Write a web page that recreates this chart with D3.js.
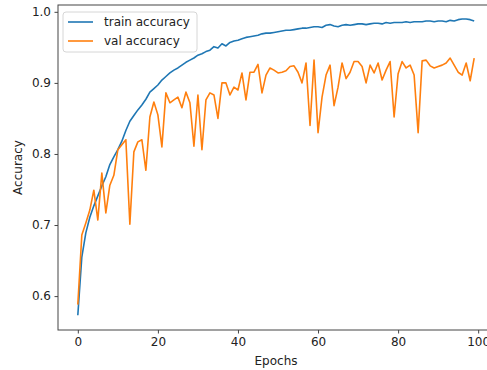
<!DOCTYPE html>
<html>
<head>
<meta charset="utf-8">
<script src="https://cdn.jsdelivr.net/npm/d3@7"></script>
<style>
  body { margin: 0; background: #fff; }
  text { font-family: "DejaVu Sans", sans-serif; }
</style>
</head>
<body>
<svg id="chart" width="487" height="370"></svg>
<script>
// accuracy per epoch
var trainAcc = [0.573,0.655,0.689,0.711,0.727,0.741,0.755,0.768,0.785,0.796,
  0.806,0.818,0.833,0.846,0.854,0.862,0.869,0.877,0.887,0.892,
  0.897,0.904,0.909,0.914,0.918,0.921,0.925,0.929,0.932,0.935,
  0.939,0.941,0.944,0.946,0.951,0.949,0.955,0.952,0.957,0.959,
  0.960,0.962,0.964,0.965,0.966,0.967,0.969,0.970,0.970,0.971,
  0.972,0.973,0.974,0.974,0.975,0.976,0.977,0.977,0.978,0.979,
  0.979,0.978,0.981,0.982,0.980,0.979,0.981,0.982,0.981,0.982,
  0.983,0.983,0.982,0.983,0.984,0.984,0.983,0.985,0.984,0.985,
  0.985,0.985,0.986,0.985,0.986,0.986,0.986,0.987,0.987,0.986,
  0.987,0.987,0.986,0.988,0.987,0.989,0.990,0.990,0.989,0.987]
var valAcc = [0.588,0.686,0.703,0.721,0.749,0.707,0.773,0.717,0.756,0.770,
  0.806,0.813,0.820,0.701,0.803,0.817,0.820,0.777,0.852,0.873,
  0.855,0.810,0.886,0.872,0.876,0.880,0.865,0.887,0.872,0.811,
  0.883,0.806,0.876,0.886,0.883,0.850,0.900,0.900,0.883,0.894,
  0.890,0.914,0.876,0.915,0.915,0.926,0.886,0.911,0.921,0.918,
  0.914,0.915,0.917,0.923,0.924,0.915,0.900,0.928,0.840,0.932,
  0.830,0.880,0.911,0.925,0.868,0.894,0.928,0.906,0.915,0.930,
  0.930,0.923,0.900,0.925,0.914,0.928,0.904,0.918,0.930,0.852,
  0.913,0.930,0.921,0.925,0.911,0.830,0.931,0.932,0.924,0.921,
  0.923,0.925,0.928,0.935,0.925,0.915,0.911,0.928,0.903,0.935]
var xTicks = [0, 20, 40, 60, 80, 100]
var yTicks = [0.6, 0.7, 0.8, 0.9, 1.0]
var seriesNames = ['train accuracy', 'val accuracy']
var seriesColors = ['#1f77b4', '#ff7f0e']

var svg = d3.select('#chart')
var plotL = 58, plotR = 494, plotT = 5, plotB = 330

var x = d3.scaleLinear().domain([-4.95, 103.95]).range([plotL, plotR])
var y = d3.scaleLinear().domain([0.5523, 1.0096]).range([plotB, plotT])

// axes
var xAxis = svg.append('g')
  .attr('transform', 'translate(0,' + plotB + ')')
  .call(d3.axisBottom(x).tickValues(xTicks).tickSize(3.5).tickPadding(3.5).tickFormat(d3.format('d')))
var yAxis = svg.append('g')
  .attr('transform', 'translate(' + plotL + ',0)')
  .call(d3.axisLeft(y).tickValues(yTicks).tickSize(3.5).tickPadding(3.5).tickFormat(d3.format('.1f')))

;[xAxis, yAxis].forEach(function(ax){
  ax.select('.domain').remove()
  ax.selectAll('line').attr('stroke', '#444')
  ax.selectAll('text').attr('font-size', '12px').attr('fill', '#222')
    .style('font-family', '"DejaVu Sans", sans-serif')
})

// spines (right one falls outside the cropped picture)
svg.append('rect')
  .attr('x', plotL).attr('y', plotT)
  .attr('width', plotR - plotL).attr('height', plotB - plotT)
  .attr('fill', 'none').attr('stroke', '#444').attr('stroke-width', 1)

// lines
var line = d3.line().x(function(d, i){ return x(i) }).y(function(d){ return y(d) })
;[trainAcc, valAcc].forEach(function(s, k){
  svg.append('path')
    .datum(s)
    .attr('d', line)
    .attr('fill', 'none')
    .attr('stroke', seriesColors[k])
    .attr('stroke-width', 1.6)
    .attr('stroke-linejoin', 'round')
})

// labels
svg.append('text')
  .attr('x', (plotL + plotR) / 2).attr('y', 365)
  .attr('text-anchor', 'middle').attr('font-size', '12px').attr('fill', '#222')
  .text('Epochs')
svg.append('text')
  .attr('transform', 'translate(22,' + ((plotT + plotB) / 2) + ') rotate(-90)')
  .attr('text-anchor', 'middle').attr('font-size', '12px').attr('fill', '#222')
  .text('Accuracy')

// legend
var lg = svg.append('g').attr('transform', 'translate(63,12)')
lg.append('rect')
  .attr('width', 134).attr('height', 40).attr('rx', 3)
  .attr('fill', '#fff').attr('fill-opacity', 0.8)
  .attr('stroke', '#d6d6d6')
seriesNames.forEach(function(name, k){
  var yy = 10 + k * 19
  lg.append('line')
    .attr('x1', 5).attr('x2', 30).attr('y1', yy).attr('y2', yy)
    .attr('stroke', seriesColors[k]).attr('stroke-width', 1.6)
  lg.append('text')
    .attr('x', 41).attr('y', yy + 4)
    .attr('font-size', '12px').attr('fill', '#222')
    .text(name)
})
</script>
</body>
</html>
